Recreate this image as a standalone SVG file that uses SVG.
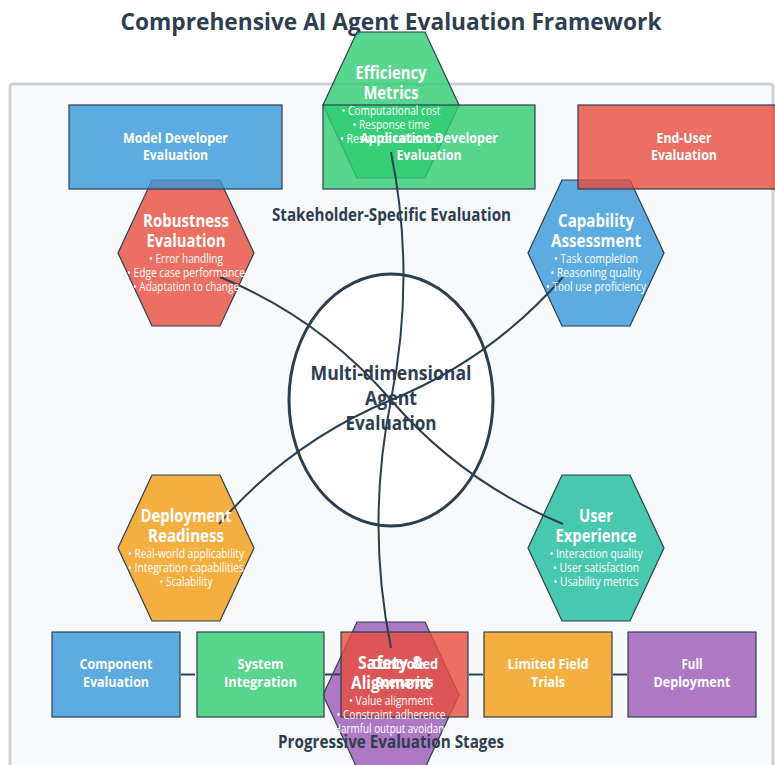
<svg xmlns="http://www.w3.org/2000/svg" width="775" height="765" viewBox="0 0 775 765">
<defs>
<style>
text{font-family:'Open Sans','Noto Sans','Liberation Sans',sans-serif;text-anchor:middle}
.title{font-size:24px;font-weight:700;fill:#2c3e50}
.lbl{font-size:17px;font-weight:700;fill:#2c3e50}
.ctr{font-size:20px;font-weight:700;fill:#2c3e50}
.ht{font-size:18px;font-weight:700;fill:#fff}
.hb{font-size:12.5px;fill:#fff}
.bt{font-size:15px;font-weight:700;fill:#fff}
.hex{stroke:#2c3e50;stroke-width:1.2;fill-opacity:0.8}
.box{stroke:#2c3e50;stroke-width:1.2;fill-opacity:0.8}
.con{fill:none;stroke:#2c3e50;stroke-width:2}
.blue{fill:#3498db}.green{fill:#2ecc71}.red{fill:#e74c3c}.orange{fill:#f39c12}.teal{fill:#1abc9c}.purple{fill:#9b59b6}
</style>
</defs>
<rect width="775" height="765" fill="#ffffff"/>
<rect x="10" y="84" width="763" height="700" rx="3" fill="#f8f9fa" stroke="#cdd1d5" stroke-width="3"/>
<text class="title" x="391" y="30" textLength="541" lengthAdjust="spacingAndGlyphs">Comprehensive AI Agent Evaluation Framework</text>

<g id="center-node">
<ellipse cx="391" cy="400" rx="102" ry="126" fill="#ffffff" stroke="#2c3e50" stroke-width="3"/>
</g>

<g id="efficiency-metrics"><polygon class="hex green" points="323,105 357,32 425,32 459,105 425,178 357,178"/></g>
<g id="robustness-evaluation"><polygon class="hex red" points="118,253 152,180 220,180 254,253 220,326 152,326"/></g>
<g id="capability-assessment"><polygon class="hex blue" points="528,253 562,180 630,180 664,253 630,326 562,326"/></g>
<g id="deployment-readiness"><polygon class="hex orange" points="118,548 152,475 220,475 254,548 220,621 152,621"/></g>
<g id="user-experience"><polygon class="hex teal" points="528,548 562,475 630,475 664,548 630,621 562,621"/></g>
<g id="safety-alignment"><polygon class="hex purple" points="323,695 357,622 425,622 459,695 425,768 357,768"/></g>

<g id="model-developer-evaluation">
<rect class="box blue" x="69" y="105" width="213" height="84"/>
<text class="bt" x="175.5" y="143" textLength="105" lengthAdjust="spacingAndGlyphs">Model Developer</text>
<text class="bt" x="175.5" y="160" textLength="65" lengthAdjust="spacingAndGlyphs">Evaluation</text>
</g>
<g id="application-developer-evaluation">
<rect class="box green" x="323" y="105" width="212" height="84"/>
<text class="bt" x="429" y="143" textLength="138" lengthAdjust="spacingAndGlyphs">Application Developer</text>
<text class="bt" x="429" y="160" textLength="65" lengthAdjust="spacingAndGlyphs">Evaluation</text>
</g>
<g id="end-user-evaluation">
<rect class="box red" x="578" y="105" width="212" height="84"/>
<text class="bt" x="684" y="143" textLength="55" lengthAdjust="spacingAndGlyphs">End-User</text>
<text class="bt" x="684" y="160" textLength="66" lengthAdjust="spacingAndGlyphs">Evaluation</text>
</g>

<g id="component-evaluation">
<rect class="box blue" x="52" y="632" width="128" height="85"/>
<text class="bt" x="116" y="669" textLength="73" lengthAdjust="spacingAndGlyphs">Component</text>
<text class="bt" x="116" y="687" textLength="66" lengthAdjust="spacingAndGlyphs">Evaluation</text>
</g>
<g id="system-integration">
<rect class="box green" x="197" y="632" width="127" height="85"/>
<text class="bt" x="260.5" y="669" textLength="46" lengthAdjust="spacingAndGlyphs">System</text>
<text class="bt" x="260.5" y="687" textLength="73" lengthAdjust="spacingAndGlyphs">Integration</text>
</g>
<g id="controlled-scenarios">
<rect class="box red" x="341" y="632" width="127" height="85"/>
<text class="bt" x="404.5" y="669" textLength="67" lengthAdjust="spacingAndGlyphs">Controlled</text>
<text class="bt" x="404.5" y="687" textLength="58" lengthAdjust="spacingAndGlyphs">Scenarios</text>
</g>
<g id="limited-field-trials">
<rect class="box orange" x="484" y="632" width="128" height="85"/>
<text class="bt" x="548" y="669" textLength="81" lengthAdjust="spacingAndGlyphs">Limited Field</text>
<text class="bt" x="548" y="687" textLength="34" lengthAdjust="spacingAndGlyphs">Trials</text>
</g>
<g id="full-deployment">
<rect class="box purple" x="628" y="632" width="128" height="85"/>
<text class="bt" x="692" y="669" textLength="21" lengthAdjust="spacingAndGlyphs">Full</text>
<text class="bt" x="692" y="687" textLength="77" lengthAdjust="spacingAndGlyphs">Deployment</text>
</g>

<g id="connectors">
<path class="con" d="M391,400 Q416,276 391,152"/>
<path class="con" d="M391,400 Q366,524 391,648"/>
<path class="con" d="M391,400 Q320,318 220,277"/>
<path class="con" d="M391,400 Q491.5,359 563,277"/>
<path class="con" d="M391,400 Q290.4,441.7 219,524"/>
<path class="con" d="M391,400 Q462.4,482.3 563,524"/>
<line class="con" x1="181" y1="674.5" x2="195" y2="674.5" stroke-width="2.5"/>
<line class="con" x1="325" y1="674.5" x2="340" y2="674.5" stroke-width="2.5"/>
<line class="con" x1="469" y1="674.5" x2="483" y2="674.5" stroke-width="2.5"/>
<line class="con" x1="613" y1="674.5" x2="627" y2="674.5" stroke-width="2.5"/>
</g>

<g id="center-label">
<text class="ctr" x="391" y="380" textLength="161" lengthAdjust="spacingAndGlyphs">Multi-dimensional</text>
<text class="ctr" x="391" y="405" textLength="52" lengthAdjust="spacingAndGlyphs">Agent</text>
<text class="ctr" x="391" y="430" textLength="91" lengthAdjust="spacingAndGlyphs">Evaluation</text>
</g>

<g id="efficiency-metrics-label">
<text class="ht" x="391" y="79" textLength="71" lengthAdjust="spacingAndGlyphs">Efficiency</text>
<text class="ht" x="391" y="99" textLength="55" lengthAdjust="spacingAndGlyphs">Metrics</text>
<text class="hb" x="391" y="115" textLength="99" lengthAdjust="spacingAndGlyphs">• Computational cost</text>
<text class="hb" x="391" y="129" textLength="77" lengthAdjust="spacingAndGlyphs">• Response time</text>
<text class="hb" x="391" y="143" textLength="102" lengthAdjust="spacingAndGlyphs">• Resource utilization</text>
</g>
<g id="robustness-evaluation-label">
<text class="ht" x="186" y="227" textLength="86" lengthAdjust="spacingAndGlyphs">Robustness</text>
<text class="ht" x="186" y="247" textLength="79" lengthAdjust="spacingAndGlyphs">Evaluation</text>
<text class="hb" x="186" y="263" textLength="74" lengthAdjust="spacingAndGlyphs">• Error handling</text>
<text class="hb" x="186" y="277" textLength="118" lengthAdjust="spacingAndGlyphs">• Edge case performance</text>
<text class="hb" x="186" y="291" textLength="106" lengthAdjust="spacingAndGlyphs">• Adaptation to change</text>
</g>
<g id="capability-assessment-label">
<text class="ht" x="596" y="227" textLength="76" lengthAdjust="spacingAndGlyphs">Capability</text>
<text class="ht" x="596" y="247" textLength="90" lengthAdjust="spacingAndGlyphs">Assessment</text>
<text class="hb" x="596" y="263" textLength="84" lengthAdjust="spacingAndGlyphs">• Task completion</text>
<text class="hb" x="596" y="277" textLength="91" lengthAdjust="spacingAndGlyphs">• Reasoning quality</text>
<text class="hb" x="596" y="291" textLength="100" lengthAdjust="spacingAndGlyphs">• Tool use proficiency</text>
</g>
<g id="deployment-readiness-label">
<text class="ht" x="186" y="522" textLength="91" lengthAdjust="spacingAndGlyphs">Deployment</text>
<text class="ht" x="186" y="542" textLength="76" lengthAdjust="spacingAndGlyphs">Readiness</text>
<text class="hb" x="186" y="558" textLength="116" lengthAdjust="spacingAndGlyphs">• Real-world applicability</text>
<text class="hb" x="186" y="572" textLength="116" lengthAdjust="spacingAndGlyphs">• Integration capabilities</text>
<text class="hb" x="186" y="586" textLength="53" lengthAdjust="spacingAndGlyphs">• Scalability</text>
</g>
<g id="user-experience-label">
<text class="ht" x="596" y="522" textLength="34" lengthAdjust="spacingAndGlyphs">User</text>
<text class="ht" x="596" y="542" textLength="81" lengthAdjust="spacingAndGlyphs">Experience</text>
<text class="hb" x="596" y="558" textLength="93" lengthAdjust="spacingAndGlyphs">• Interaction quality</text>
<text class="hb" x="596" y="572" textLength="86" lengthAdjust="spacingAndGlyphs">• User satisfaction</text>
<text class="hb" x="596" y="586" textLength="85" lengthAdjust="spacingAndGlyphs">• Usability metrics</text>
</g>
<g id="safety-alignment-label">
<text class="ht" x="391" y="669" textLength="66" lengthAdjust="spacingAndGlyphs">Safety &amp;</text>
<text class="ht" x="391" y="689" textLength="80" lengthAdjust="spacingAndGlyphs">Alignment</text>
<text class="hb" x="391" y="705" textLength="84" lengthAdjust="spacingAndGlyphs">• Value alignment</text>
<text class="hb" x="391" y="719" textLength="109" lengthAdjust="spacingAndGlyphs">• Constraint adherence</text>
<text class="hb" x="391" y="733" textLength="127" lengthAdjust="spacingAndGlyphs">• Harmful output avoidance</text>
</g>

<text class="lbl" x="391.5" y="221" textLength="239" lengthAdjust="spacingAndGlyphs">Stakeholder-Specific Evaluation</text>
<text class="lbl" x="391" y="748" textLength="226" lengthAdjust="spacingAndGlyphs">Progressive Evaluation Stages</text>
</svg>
